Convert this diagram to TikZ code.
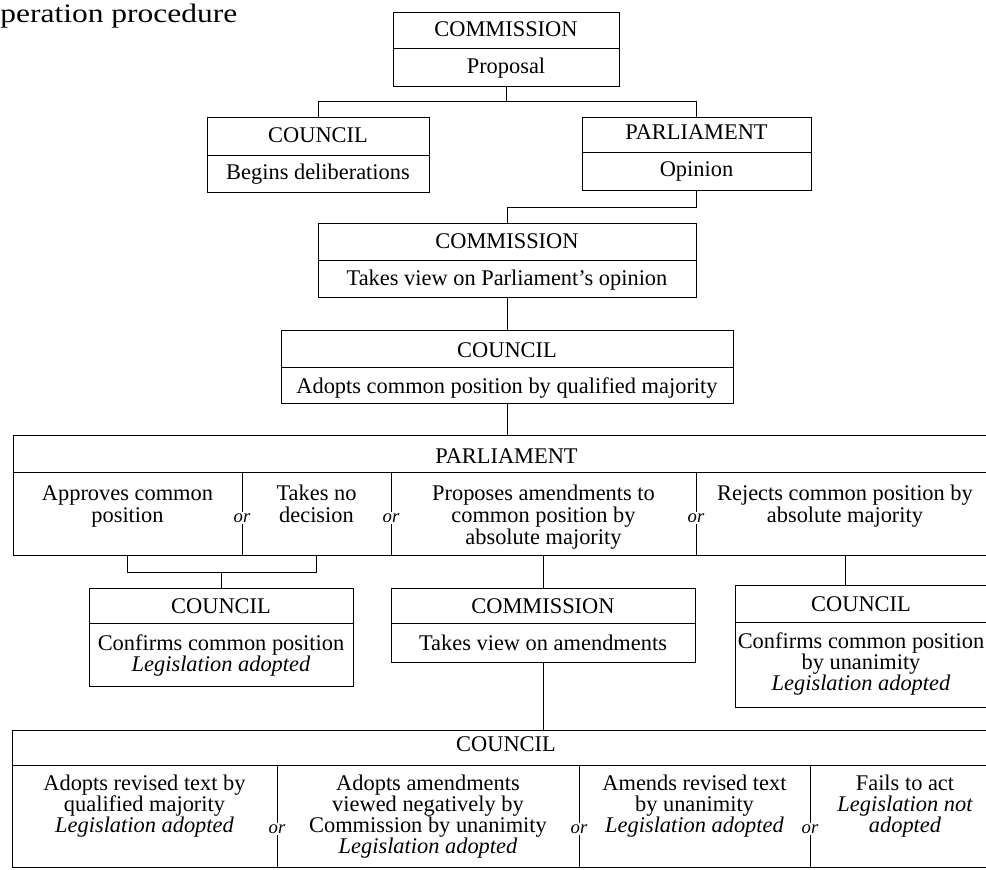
\documentclass[tikz,border=0pt]{standalone}
\usepackage{fontspec}
\setmainfont{Liberation Serif}
\newfontfamily\dgtitlefam{Liberation Serif}[FakeStretch=1.18]
\newcommand\dgtx{\fontsize{16.8}{20}\selectfont}
\newcommand\dgor{\fontsize{14}{16}\selectfont\itshape}
\newcommand\dgtitle{\dgtitlefam\fontsize{20}{24}\selectfont}
\begin{document}
\begin{tikzpicture}[x=0.75pt,y=-0.75pt,line width=0.7pt,
  bx/.style 2 args={draw,rectangle,inner sep=0pt,minimum width=#1*0.75pt,minimum height=#2*0.75pt},
  tx/.style={font=\dgtx,anchor=base,inner sep=0pt},
  itx/.style={font=\dgtx\itshape,anchor=base,inner sep=0pt},
  orl/.style={font=\dgor,fill=white,inner sep=1.5pt},
  link/.style={draw,line width=0.7pt},
  part/.style={draw,line width=0.7pt}]
\useasboundingbox (0,0) rectangle (986,870);
\clip (0,0) rectangle (986,870);

\node[font=\dgtitle,anchor=base west,inner sep=0pt] (title) at (0,23) {peration procedure};

% B1
\node[bx={226}{74}] (b1) at (506,49) {};
\path[part] (393,48) -- (619,48);
\node[tx] (b1h) at (506,37) {COMMISSION};
\node[tx] (b1t) at (506,74) {Proposal};

% B2
\node[bx={222}{75}] (b2) at (318,154.5) {};
\path[part] (207,155) -- (429,155);
\node[tx] (b2h) at (318,143) {COUNCIL};
\node[tx] (b2t) at (318,180) {Begins deliberations};

% B3
\node[bx={229}{73}] (b3) at (696.5,153.5) {};
\path[part] (582,152) -- (811,152);
\node[tx] (b3h) at (696.5,140) {PARLIAMENT};
\node[tx] (b3t) at (696.5,177) {Opinion};

% B4
\node[bx={378}{74}] (b4) at (507,260) {};
\path[part] (318,260) -- (696,260);
\node[tx] (b4h) at (507,249) {COMMISSION};
\node[tx] (b4t) at (507,286) {Takes view on Parliament’s opinion};

% B5
\node[bx={452}{73}] (b5) at (507,366.5) {};
\path[part] (281,367) -- (733,367);
\node[tx] (b5h) at (507,357) {COUNCIL};
\node[tx] (b5t) at (507,393) {Adopts common position by qualified majority};

% B6 big parliament
\node[bx={987}{120}] (b6) at (506.5,495) {};
\path[part] (13,472) -- (1000,472);
\node[tx] (b6h) at (506.5,463) {PARLIAMENT};
\foreach \x/\n in {242/a,391/b,696/c}{
  \path[part] (\x,472) -- (\x,555);
  \node[orl] (or6\n) at (\x,518) {or};
}
\node[tx] (p1a) at (127.5,500) {Approves common};
\node[tx] (p1b) at (127.5,522) {position};
\node[tx] (p2a) at (316.5,500) {Takes no};
\node[tx] (p2b) at (316.5,522) {decision};
\node[tx] (p3a) at (543.5,500) {Proposes amendments to};
\node[tx] (p3b) at (543.5,522) {common position by};
\node[tx] (p3c) at (543.5,544) {absolute majority};
\node[tx] (p4a) at (845,500) {Rejects common position by};
\node[tx] (p4b) at (845,522) {absolute majority};

% B7
\node[bx={264}{98}] (b7) at (221,637) {};
\path[part] (89,623) -- (353,623);
\node[tx] (b7h) at (221,613) {COUNCIL};
\node[tx] (b7t) at (221,650) {Confirms common position};
\node[itx] (b7u) at (221,671) {Legislation adopted};

% B8
\node[bx={304}{74}] (b8) at (543,625) {};
\path[part] (391,623) -- (695,623);
\node[tx] (b8h) at (543,613) {COMMISSION};
\node[tx] (b8t) at (543,650) {Takes view on amendments};

% B9
\node[bx={265}{122}] (b9) at (867.5,646) {};
\path[part] (735,622) -- (1000,622);
\node[tx] (b9h) at (861,611) {COUNCIL};
\node[tx] (b9t) at (861,648) {Confirms common position};
\node[tx] (b9u) at (861,669) {by unanimity};
\node[itx] (b9v) at (861,690) {Legislation adopted};

% B10
\node[bx={988}{137}] (b10) at (506,798.5) {};
\path[part] (12,765) -- (1000,765);
\node[tx] (b10h) at (506,751) {COUNCIL};
\foreach \x/\n in {277/a,579/b,810/c}{
  \path[part] (\x,765) -- (\x,867);
  \node[orl] (or10\n) at (\x,829) {or};
}
\node[tx] (q1a) at (144.5,790) {Adopts revised text by};
\node[tx] (q1b) at (144.5,811) {qualified majority};
\node[itx] (q1c) at (144.5,832) {Legislation adopted};
\node[tx] (q2a) at (428,790) {Adopts amendments};
\node[tx] (q2b) at (428,811) {viewed negatively by};
\node[tx] (q2c) at (428,832) {Commission by unanimity};
\node[itx] (q2d) at (428,853) {Legislation adopted};
\node[tx] (q3a) at (694.5,790) {Amends revised text};
\node[tx] (q3b) at (694.5,811) {by unanimity};
\node[itx] (q3c) at (694.5,832) {Legislation adopted};
\node[tx] (q4a) at (905,790) {Fails to act};
\node[itx] (q4b) at (905,811) {Legislation not};
\node[itx] (q4c) at (905,832) {adopted};

% connectors
\draw[link] (b1.south) -- ++(0,15) coordinate (j1);
\draw[link] (b2.north) |- (j1) -| (b3.north);
\draw[link] (b3.south) -- ++(0,17) -| (b4.north);
\draw[link] (b4.south) -- (b5.north);
\draw[link] (b5.south) -- (b5.south |- b6.north);
\draw[link] (p1a |- b6.south) -- ++(0,17) coordinate (k1) -| (p2a |- b6.south);
\draw[link] (b7.north) -- (b7.north |- k1);
\draw[link] (b8.north) -- (b8.north |- b6.south);
\draw[link] (p4a |- b6.south) -- (p4a |- b9.north);
\draw[link] (b8.south) -- (b8.south |- b10.north);
\end{tikzpicture}
\end{document}
